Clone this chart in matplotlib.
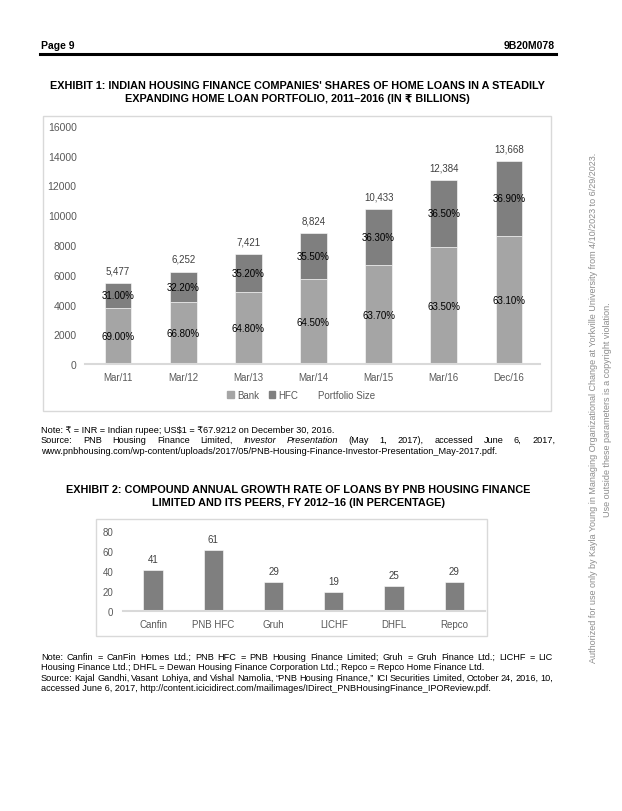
import matplotlib
matplotlib.use('Agg')
import matplotlib.pyplot as plt
from matplotlib.patches import Rectangle, Patch
from matplotlib.lines import Line2D

plt.rcParams['font.family'] = ['Liberation Sans', 'DejaVu Sans']

W, H = 622, 812

# Exhibit 1: home loan portfolio (INR billions) and shares
periods = ['Mar/11', 'Mar/12', 'Mar/13', 'Mar/14', 'Mar/15', 'Mar/16', 'Dec/16']
portfolio = [5477, 6252, 7421, 8824, 10433, 12384, 13668]
bank_pct = [69.0, 66.8, 64.8, 64.5, 63.7, 63.5, 63.1]
hfc_pct = [31.0, 32.2, 35.2, 35.5, 36.3, 36.5, 36.9]
y1_ticks = [0, 2000, 4000, 6000, 8000, 10000, 12000, 14000, 16000]

# Exhibit 2: CAGR of loans FY2012-16 (%)
peers = ['Canfin', 'PNB HFC', 'Gruh', 'LICHF', 'DHFL', 'Repco']
cagr = [41, 61, 29, 19, 25, 29]
y2_ticks = [0, 20, 40, 60, 80]

BANK = '#a5a5a5'
HFC = '#7f7f7f'
AXC = '#d9d9d9'
TXT = '#595959'
NOTE = 6.6


def fx(x):
    return x / W


def fy(y):
    return 1 - y / H


def px_axes(fig, left, top, right, bottom):
    return fig.add_axes([fx(left), fy(bottom), (right - left) / W, (bottom - top) / H])


def frame(fig, left, top, right, bottom):
    fig.patches.append(Rectangle((fx(left), fy(bottom)), (right - left) / W, (bottom - top) / H,
                                 transform=fig.transFigure, fill=False, ec=AXC, lw=1.0))


def justify(fig, words, x0, x1, y, size):
    # spread words so the line fills x0..x1, like a justified paragraph line
    r = fig.canvas.get_renderer()
    texts = [fig.text(0, fy(y), w, fontsize=size, style=s, va='baseline') for w, s in words]
    widths = [t.get_window_extent(r).width for t in texts]
    gap = (x1 - x0 - sum(widths)) / (len(words) - 1)
    x = x0
    for t, w in zip(texts, widths):
        t.set_x(fx(x))
        x += w + gap


def style_axes(ax):
    for s in ['top', 'right', 'left']:
        ax.spines[s].set_visible(False)
    ax.spines['bottom'].set_color(AXC)
    ax.spines['bottom'].set_linewidth(1.5)
    ax.tick_params(length=0, labelsize=7, labelcolor=TXT)
    ax.patch.set_alpha(0)


fig = plt.figure(figsize=(W / 100, H / 100), dpi=100)

# page header
fig.text(fx(41), fy(49), 'Page 9', fontsize=7.5, weight='bold', va='baseline')
fig.text(fx(555), fy(49), '9B20M078', fontsize=7.5, weight='bold', va='baseline', ha='right')
fig.add_artist(Line2D([fx(40), fx(556)], [fy(55), fy(55)], color='black', lw=2.2))

# Exhibit 1
fig.text(fx(297), fy(89), "EXHIBIT 1: INDIAN HOUSING FINANCE COMPANIES' SHARES OF HOME LOANS IN A STEADILY",
         fontsize=7.8, weight='bold', ha='center', va='baseline')
fig.text(fx(297), fy(102), 'EXPANDING HOME LOAN PORTFOLIO, 2011\u20132016 (IN \u20b9 BILLIONS)',
         fontsize=7.8, weight='bold', ha='center', va='baseline')

frame(fig, 43, 117, 551, 412)
ax1 = px_axes(fig, 85, 127, 540, 365)
x1 = list(range(len(periods)))
bank = [p * b / 100 for p, b in zip(portfolio, bank_pct)]
hfc = [p * h / 100 for p, h in zip(portfolio, hfc_pct)]
ax1.bar(x1, bank, width=0.41, color=BANK, edgecolor='white', linewidth=0.4, label='Bank')
ax1.bar(x1, hfc, bottom=bank, width=0.41, color=HFC, edgecolor='white', linewidth=0.4, label='HFC')
for i in x1:
    ax1.text(i, bank[i] / 2, f'{bank_pct[i]:.2f}%', fontsize=7, ha='center', va='center', color='black')
    ax1.text(i, bank[i] + hfc[i] / 2, f'{hfc_pct[i]:.2f}%', fontsize=7, ha='center', va='center', color='black')
    ax1.annotate(f'{portfolio[i]:,}', (i, portfolio[i]), xytext=(0, 9), textcoords='offset points',
                 fontsize=7, ha='center', va='center', color='#404040')
ax1.set_xlim(-0.506, 6.476)
ax1.set_ylim(0, 16000)
ax1.set_yticks(y1_ticks)
ax1.set_xticks(x1)
ax1.set_xticklabels(periods)
style_axes(ax1)
ax1.tick_params(axis='y', pad=6, labelsize=7.5)
ax1.tick_params(axis='x', pad=6)

handles = [Patch(color=BANK), Patch(color=HFC), Line2D([], [], lw=0)]
fig.legend(handles, ['Bank', 'HFC', 'Portfolio Size'], loc='center', bbox_to_anchor=(fx(301), fy(396)),
           ncol=3, frameon=False, fontsize=7, labelcolor=TXT, handlelength=0.7, handleheight=0.7,
           handletextpad=0.3, columnspacing=1.0)

# Exhibit 1 notes
fig.text(fx(41), fy(433), 'Note: \u20b9 = INR = Indian rupee; US$1 = \u20b967.9212 on December 30, 2016.',
         fontsize=NOTE, va='baseline')
justify(fig, [('Source:', 'normal'), ('PNB', 'normal'), ('Housing', 'normal'), ('Finance', 'normal'),
              ('Limited,', 'normal'), ('Investor', 'italic'), ('Presentation', 'italic'), ('(May', 'normal'),
              ('1,', 'normal'), ('2017),', 'normal'), ('accessed', 'normal'), ('June', 'normal'),
              ('6,', 'normal'), ('2017,', 'normal')], 41, 555, 443, NOTE)
fig.text(fx(41), fy(454),
         'www.pnbhousing.com/wp-content/uploads/2017/05/PNB-Housing-Finance-Investor-Presentation_May-2017.pdf.',
         fontsize=NOTE, va='baseline')

# Exhibit 2
fig.text(fx(298), fy(493), 'EXHIBIT 2: COMPOUND ANNUAL GROWTH RATE OF LOANS BY PNB HOUSING FINANCE',
         fontsize=7.8, weight='bold', ha='center', va='baseline')
fig.text(fx(298), fy(506), 'LIMITED AND ITS PEERS, FY 2012\u201316 (IN PERCENTAGE)',
         fontsize=7.8, weight='bold', ha='center', va='baseline')

frame(fig, 96, 520, 487, 637)
ax2 = px_axes(fig, 123, 532, 485, 612)
x2 = list(range(len(peers)))
ax2.bar(x2, cagr, width=0.32, color=HFC, edgecolor='white', linewidth=0.4)
for i in x2:
    ax2.annotate(str(cagr[i]), (i, cagr[i]), xytext=(0, 8), textcoords='offset points',
                 fontsize=7, ha='center', va='center', color='#404040')
ax2.set_xlim(-0.5, 5.51)
ax2.set_ylim(0, 80)
ax2.set_yticks(y2_ticks)
ax2.set_xticks(x2)
ax2.set_xticklabels(peers)
style_axes(ax2)
ax2.tick_params(axis='y', pad=7)
ax2.tick_params(axis='x', pad=6)

# Exhibit 2 notes (lines 1 and 3 are justified, 2 and 4 end their paragraphs)
notes2 = [
    'Note: Canfin = CanFin Homes Ltd.; PNB HFC = PNB Housing Finance Limited; Gruh = Gruh Finance Ltd.; LICHF = LIC',
    'Housing Finance Ltd.; DHFL = Dewan Housing Finance Corporation Ltd.; Repco = Repco Home Finance Ltd.',
    'Source: Kajal Gandhi, Vasant Lohiya, and Vishal Namolia, \u201cPNB Housing Finance,\u201d ICI Securities Limited, October 24, 2016, 10,',
    'accessed June 6, 2017, http://content.icicidirect.com/mailimages/IDirect_PNBHousingFinance_IPOReview.pdf.',
]
for k, line in enumerate(notes2):
    y = 660 + 10.5 * k
    if k in (0, 2):
        justify(fig, [(w, 'normal') for w in line.split(' ')], 41, 553, y, NOTE)
    else:
        fig.text(fx(41), fy(y), line, fontsize=NOTE, va='baseline')

# side watermark
fig.text(fx(594), fy(408), 'Authorized for use only by Kayla Young in Managing Organizational Change at Yorkville '
         'University from 4/10/2023 to 6/29/2023.', fontsize=6.5, rotation=90, ha='center', va='center',
         color='#8c8c8c')
fig.text(fx(607), fy(410), 'Use outside these parameters is a copyright violation.', fontsize=6.5, rotation=90,
         ha='center', va='center', color='#8c8c8c')

fig.savefig('out.png', dpi=100)
